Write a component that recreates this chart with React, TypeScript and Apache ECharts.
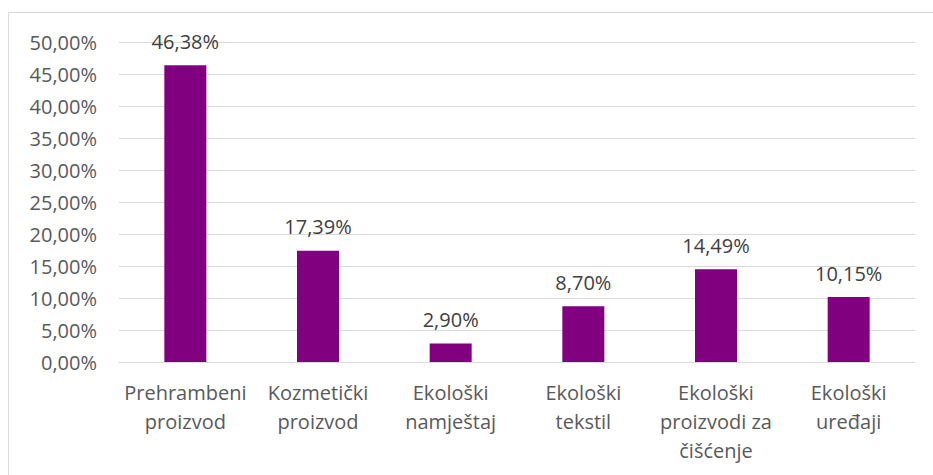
import React, { useEffect, useRef } from "react";
import * as echarts from "echarts";

const categories = [
  "Prehrambeni\nproizvod",
  "Kozmetički\nproizvod",
  "Ekološki\nnamještaj",
  "Ekološki\ntekstil",
  "Ekološki\nproizvodi za\nčišćenje",
  "Ekološki\nuređaji",
];
const values = [46.38, 17.39, 2.9, 8.7, 14.49, 10.15];
const yMin = 0;
const yMax = 50;
const yInterval = 5;

const fmt = (v: number) => v.toFixed(2).replace(".", ",") + "%";

export default function App() {
  const ref = useRef<HTMLDivElement>(null);
  useEffect(() => {
    if (!ref.current) return;
    const chart = echarts.init(ref.current, undefined, { renderer: "svg" });
    const font = "'Open Sans', sans-serif";
    chart.setOption({
      animation: false,
      backgroundColor: "#ffffff",
      graphic: [
        {
          type: "polyline",
          shape: { points: [[8.5, 475], [8.5, 12.5], [933, 12.5]] },
          style: { stroke: "#d9d9d9", lineWidth: 1, fill: "none" },
          silent: true,
        },
      ],
      grid: { left: 119, right: 18, top: 42, bottom: 113 },
      xAxis: {
        type: "category",
        data: categories,
        axisLine: { show: true, lineStyle: { color: "#d9d9d9", width: 1 } },
        axisTick: { show: false },
        axisLabel: {
          color: "#595959",
          fontFamily: font,
          fontSize: 20,
          lineHeight: 29,
          margin: 16,
          interval: 0,
        },
      },
      yAxis: {
        type: "value",
        min: yMin,
        max: yMax,
        interval: yInterval,
        axisLine: { show: false },
        axisTick: { show: false },
        splitLine: { lineStyle: { color: "#d9d9d9", width: 1 } },
        axisLabel: {
          color: "#595959",
          fontFamily: font,
          fontSize: 20,
          margin: 22,
          formatter: (v: number) => fmt(v),
        },
      },
      series: [
        {
          type: "bar",
          data: values,
          barWidth: 42,
          itemStyle: { color: "#800080" },
          label: {
            show: true,
            position: "top",
            distance: 14,
            color: "#404040",
            fontFamily: font,
            fontSize: 20,
            formatter: (p: any) => fmt(p.value),
          },
        },
      ],
    });
    return () => chart.dispose();
  }, []);
  return (
    <div
      ref={ref}
      style={{ position: "absolute", left: 0, top: 0, width: 933, height: 475 }}
    />
  );
}
